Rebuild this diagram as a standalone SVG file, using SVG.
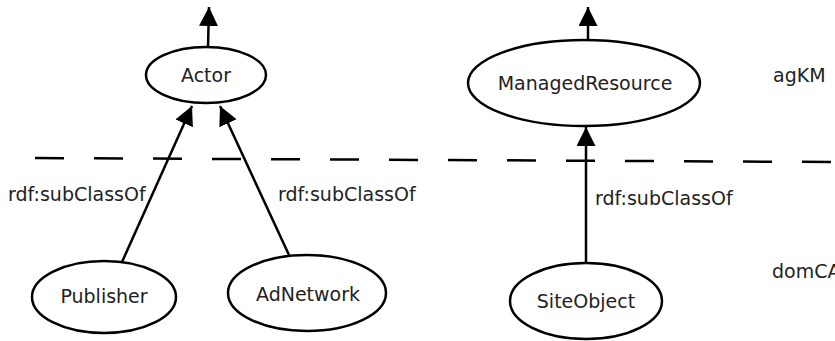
<svg xmlns="http://www.w3.org/2000/svg" width="835" height="341" viewBox="0 0 835 341">
  <style>
    .node ellipse { fill: #ffffff; stroke: #000000; stroke-width: 2.5; }
    .node text, .lbl { font-family: "DejaVu Sans", "Liberation Sans", sans-serif; font-size: 19px; fill: #222222; }
    .node text { text-anchor: middle; }
    .edge { stroke: #000000; stroke-width: 2.5; fill: none; marker-end: url(#arrow); }
    .divider { stroke: #000000; stroke-width: 2.5; stroke-dasharray: 29 30; fill: none; }
  </style>
  <defs>
    <marker id="arrow" markerUnits="userSpaceOnUse" markerWidth="20" markerHeight="20" refX="19" refY="9.5" orient="auto">
      <path d="M0,0 L19,9.5 L0,19 Z" fill="#000000"/>
    </marker>
  </defs>

  <!-- layer separator -->
  <line class="divider" x1="35" y1="158" x2="835" y2="162"/>

  <!-- connectors -->
  <g id="connectors">
    <line class="edge" x1="208" y1="47" x2="209" y2="7"/>
    <line class="edge" x1="588" y1="40" x2="588" y2="7"/>
    <line class="edge" x1="122" y1="262" x2="192" y2="106"/>
    <line class="edge" x1="289" y1="255" x2="220" y2="106"/>
    <line class="edge" x1="586" y1="263" x2="586" y2="127"/>
  </g>

  <!-- edge labels -->
  <g id="labels">
    <text class="lbl" x="8" y="201">rdf:subClassOf</text>
    <text class="lbl" x="278" y="201">rdf:subClassOf</text>
    <text class="lbl" x="595" y="205">rdf:subClassOf</text>
    <text class="lbl" x="773" y="82">agKM</text>
    <text class="lbl" x="772" y="278">domCA</text>
  </g>

  <!-- nodes -->
  <g id="actor" class="node">
    <ellipse cx="206" cy="75" rx="60" ry="28"/>
    <text x="206" y="82">Actor</text>
  </g>
  <g id="managedResource" class="node">
    <ellipse cx="584" cy="83" rx="116" ry="43"/>
    <text x="585" y="90">ManagedResource</text>
  </g>
  <g id="publisher" class="node">
    <ellipse cx="104" cy="297" rx="72" ry="36"/>
    <text x="104" y="303">Publisher</text>
  </g>
  <g id="adNetwork" class="node">
    <ellipse cx="307" cy="293" rx="79" ry="38"/>
    <text x="308" y="301">AdNetwork</text>
  </g>
  <g id="siteObject" class="node">
    <ellipse cx="586" cy="301" rx="76" ry="38"/>
    <text x="586" y="308">SiteObject</text>
  </g>
</svg>
